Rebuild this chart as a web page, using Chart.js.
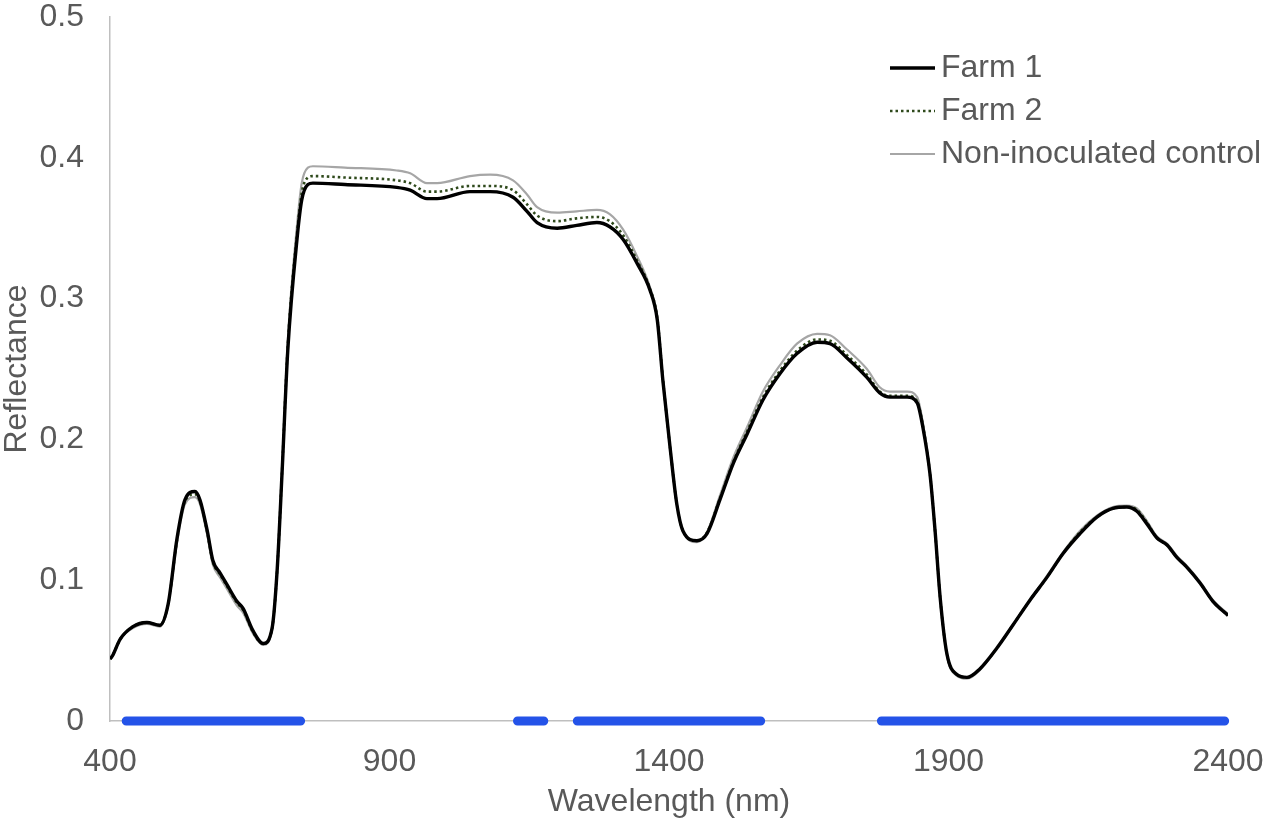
<!DOCTYPE html>
<html lang="en">
<head>
  <meta charset="UTF-8">
  <title>Reflectance spectra</title>
  <script src="https://cdn.jsdelivr.net/npm/chart.js"></script>
  <style>
    html, body { margin: 0; padding: 0; background: #fff; }
    #wrap { width: 1267px; height: 824px; }
  </style>
</head>
<body>
<div id="wrap"><canvas id="spectra"></canvas></div>
<script>
// wavelengths (nm) sampled along the curves
const wavelengths = [400,404,418,441,466,489,504,520,534,552,561,574,584,597,609,627,638,656,674,690,
  699,708,718,735,743,754,763,820,913,937,967,985,1044,1080,1121,1146,1164,1200,1235,1271,
  1294,1318,1343,1366,1379,1389,1402,1414,1425,1450,1468,1491,1515,1540,1568,1599,1629,1665,1688,1718,
  1754,1777,1795,1826,1844,1854,1867,1876,1885,1897,1915,1933,1956,1987,2015,2046,2076,2105,2135,2166,
  2194,2219,2237,2255,2273,2291,2309,2327,2350,2373,2400];

const farm1 = [0.044,0.046,0.058,0.067,0.070,0.068,0.083,0.130,0.157,0.163,0.157,0.135,0.114,0.105,0.097,0.085,0.080,0.064,0.055,0.066,
  0.107,0.178,0.263,0.344,0.370,0.381,0.382,0.381,0.379,0.377,0.371,0.371,0.376,0.376,0.372,0.362,0.354,0.350,0.352,0.354,
  0.351,0.342,0.325,0.306,0.285,0.242,0.194,0.154,0.135,0.128,0.133,0.157,0.183,0.204,0.228,0.247,0.261,0.269,0.268,0.258,
  0.244,0.233,0.230,0.230,0.226,0.209,0.175,0.135,0.088,0.048,0.033,0.031,0.037,0.052,0.068,0.086,0.102,0.119,0.133,0.145,
  0.151,0.152,0.149,0.140,0.130,0.125,0.116,0.109,0.098,0.085,0.075];

const farm2 = [0.044,0.046,0.058,0.067,0.070,0.068,0.083,0.129,0.156,0.161,0.156,0.134,0.113,0.104,0.096,0.084,0.079,0.063,0.055,0.066,
  0.107,0.179,0.266,0.348,0.375,0.386,0.387,0.386,0.384,0.382,0.376,0.376,0.380,0.380,0.377,0.367,0.359,0.355,0.357,0.358,
  0.355,0.345,0.327,0.307,0.286,0.243,0.194,0.154,0.135,0.128,0.134,0.158,0.184,0.206,0.230,0.249,0.263,0.271,0.270,0.260,
  0.246,0.234,0.231,0.231,0.227,0.210,0.175,0.135,0.088,0.048,0.033,0.031,0.037,0.052,0.068,0.086,0.102,0.119,0.134,0.145,
  0.151,0.152,0.150,0.141,0.130,0.125,0.116,0.109,0.098,0.085,0.075];

const control = [0.044,0.046,0.058,0.066,0.069,0.067,0.082,0.127,0.154,0.159,0.154,0.132,0.111,0.102,0.094,0.082,0.077,0.062,0.054,0.065,
  0.107,0.180,0.270,0.354,0.382,0.393,0.394,0.393,0.391,0.389,0.382,0.382,0.387,0.388,0.384,0.374,0.365,0.361,0.362,0.363,
  0.360,0.349,0.330,0.308,0.287,0.243,0.194,0.154,0.135,0.127,0.134,0.160,0.187,0.209,0.234,0.253,0.268,0.275,0.274,0.264,
  0.250,0.237,0.234,0.234,0.230,0.212,0.176,0.135,0.088,0.047,0.032,0.030,0.036,0.052,0.068,0.086,0.103,0.120,0.135,0.146,
  0.152,0.153,0.151,0.142,0.131,0.126,0.117,0.110,0.099,0.086,0.076];

// significant wavebands marked along the x axis
const bandStart = [429, 1129, 1236, 1780];
const bandEnd   = [741, 1176, 1564, 2394];

const xTicks = [400, 900, 1400, 1900, 2400];
const yTicks = [0, 0.1, 0.2, 0.3, 0.4, 0.5];

const FONT = "'Liberation Sans', Arial, sans-serif";
const TEXT = "#595959";
const SIZE = 32;

const toPoints = vals => wavelengths.map((w, i) => ({ x: w, y: vals[i] }));

const bandPoints = [];
bandStart.forEach((s, i) => {
  bandPoints.push({ x: s, y: 0 }, { x: bandEnd[i], y: 0 });
  if (i < bandStart.length - 1) bandPoints.push({ x: bandEnd[i] + 1, y: null });
});

// legend drawn inside the plot, top right
const insideLegend = {
  id: "insideLegend",
  afterDraw(chart, args, opts) {
    const { ctx, chartArea } = chart;
    const x0 = chartArea.right - opts.fromRight;
    ctx.save();
    ctx.font = `${opts.size}px ${FONT}`;
    ctx.textBaseline = "middle";
    ctx.fillStyle = TEXT;
    chart.data.datasets.filter(d => d.inLegend).forEach((d, i) => {
      const y = chartArea.top + opts.firstRow + i * opts.rowGap;
      ctx.beginPath();
      ctx.strokeStyle = d.borderColor;
      ctx.lineWidth = d.borderWidth;
      ctx.setLineDash(d.borderDash || []);
      ctx.moveTo(x0, y);
      ctx.lineTo(x0 + opts.lineLen, y);
      ctx.stroke();
      ctx.setLineDash([]);
      ctx.fillText(d.label, x0 + opts.lineLen + 6, y);
    });
    ctx.restore();
  }
};

const lineBase = { pointRadius: 0, fill: false, cubicInterpolationMode: "monotone", inLegend: true };

new Chart(document.getElementById("spectra"), {
  type: "line",
  data: {
    datasets: [
      { ...lineBase, label: "Farm 1", data: toPoints(farm1), borderColor: "#000000", borderWidth: 3.4 },
      { ...lineBase, label: "Farm 2", data: toPoints(farm2), borderColor: "#2f4a1c", borderWidth: 2.6, borderDash: [2.5, 3] },
      { ...lineBase, label: "Non-inoculated control", data: toPoints(control), borderColor: "#a6a6a6", borderWidth: 2.2 },
      { label: "bands", data: bandPoints, inLegend: false, borderColor: "#2453e8", borderWidth: 9,
        borderCapStyle: "round", pointRadius: 0, spanGaps: false, clip: false, tension: 0 }
    ]
  },
  options: {
    responsive: true,
    maintainAspectRatio: false,
    animation: false,
    layout: { padding: { top: 17, right: 39, left: 0, bottom: 0 } },
    plugins: {
      legend: { display: false },
      tooltip: { enabled: false },
      insideLegend: { fromRight: 338, lineLen: 45, firstRow: 51, rowGap: 43, size: SIZE }
    },
    scales: {
      x: {
        type: "linear",
        min: 400, max: 2400,
        afterBuildTicks: s => { s.ticks = xTicks.map(v => ({ value: v })); },
        afterFit: s => { s.height = 103; s.paddingLeft = 0; s.paddingRight = 0; },
        grid: { display: false, drawTicks: false },
        border: { display: true, color: "#bfbfbf", width: 1.5 },
        ticks: { color: TEXT, font: { family: FONT, size: SIZE }, padding: 22, maxRotation: 0, autoSkip: false,
                 callback: v => String(v) },
        title: { display: true, text: "Wavelength (nm)", color: TEXT, font: { family: FONT, size: SIZE, lineHeight: 1 },
                 padding: { top: 0, bottom: 6 } }
      },
      y: {
        min: 0, max: 0.5,
        afterBuildTicks: s => { s.ticks = yTicks.map(v => ({ value: v })); },
        afterFit: s => { s.width = 110; s.paddingTop = 0; s.paddingBottom = 0; },
        grid: { display: false, drawTicks: false },
        border: { display: true, color: "#bfbfbf", width: 1.5 },
        ticks: { color: TEXT, font: { family: FONT, size: SIZE }, padding: 26, callback: v => String(v) },
        title: { display: true, text: "Reflectance", color: TEXT, font: { family: FONT, size: SIZE, lineHeight: 1 },
                 padding: { top: 1, bottom: 0 } }
      }
    }
  },
  plugins: [insideLegend]
});
</script>
</body>
</html>
